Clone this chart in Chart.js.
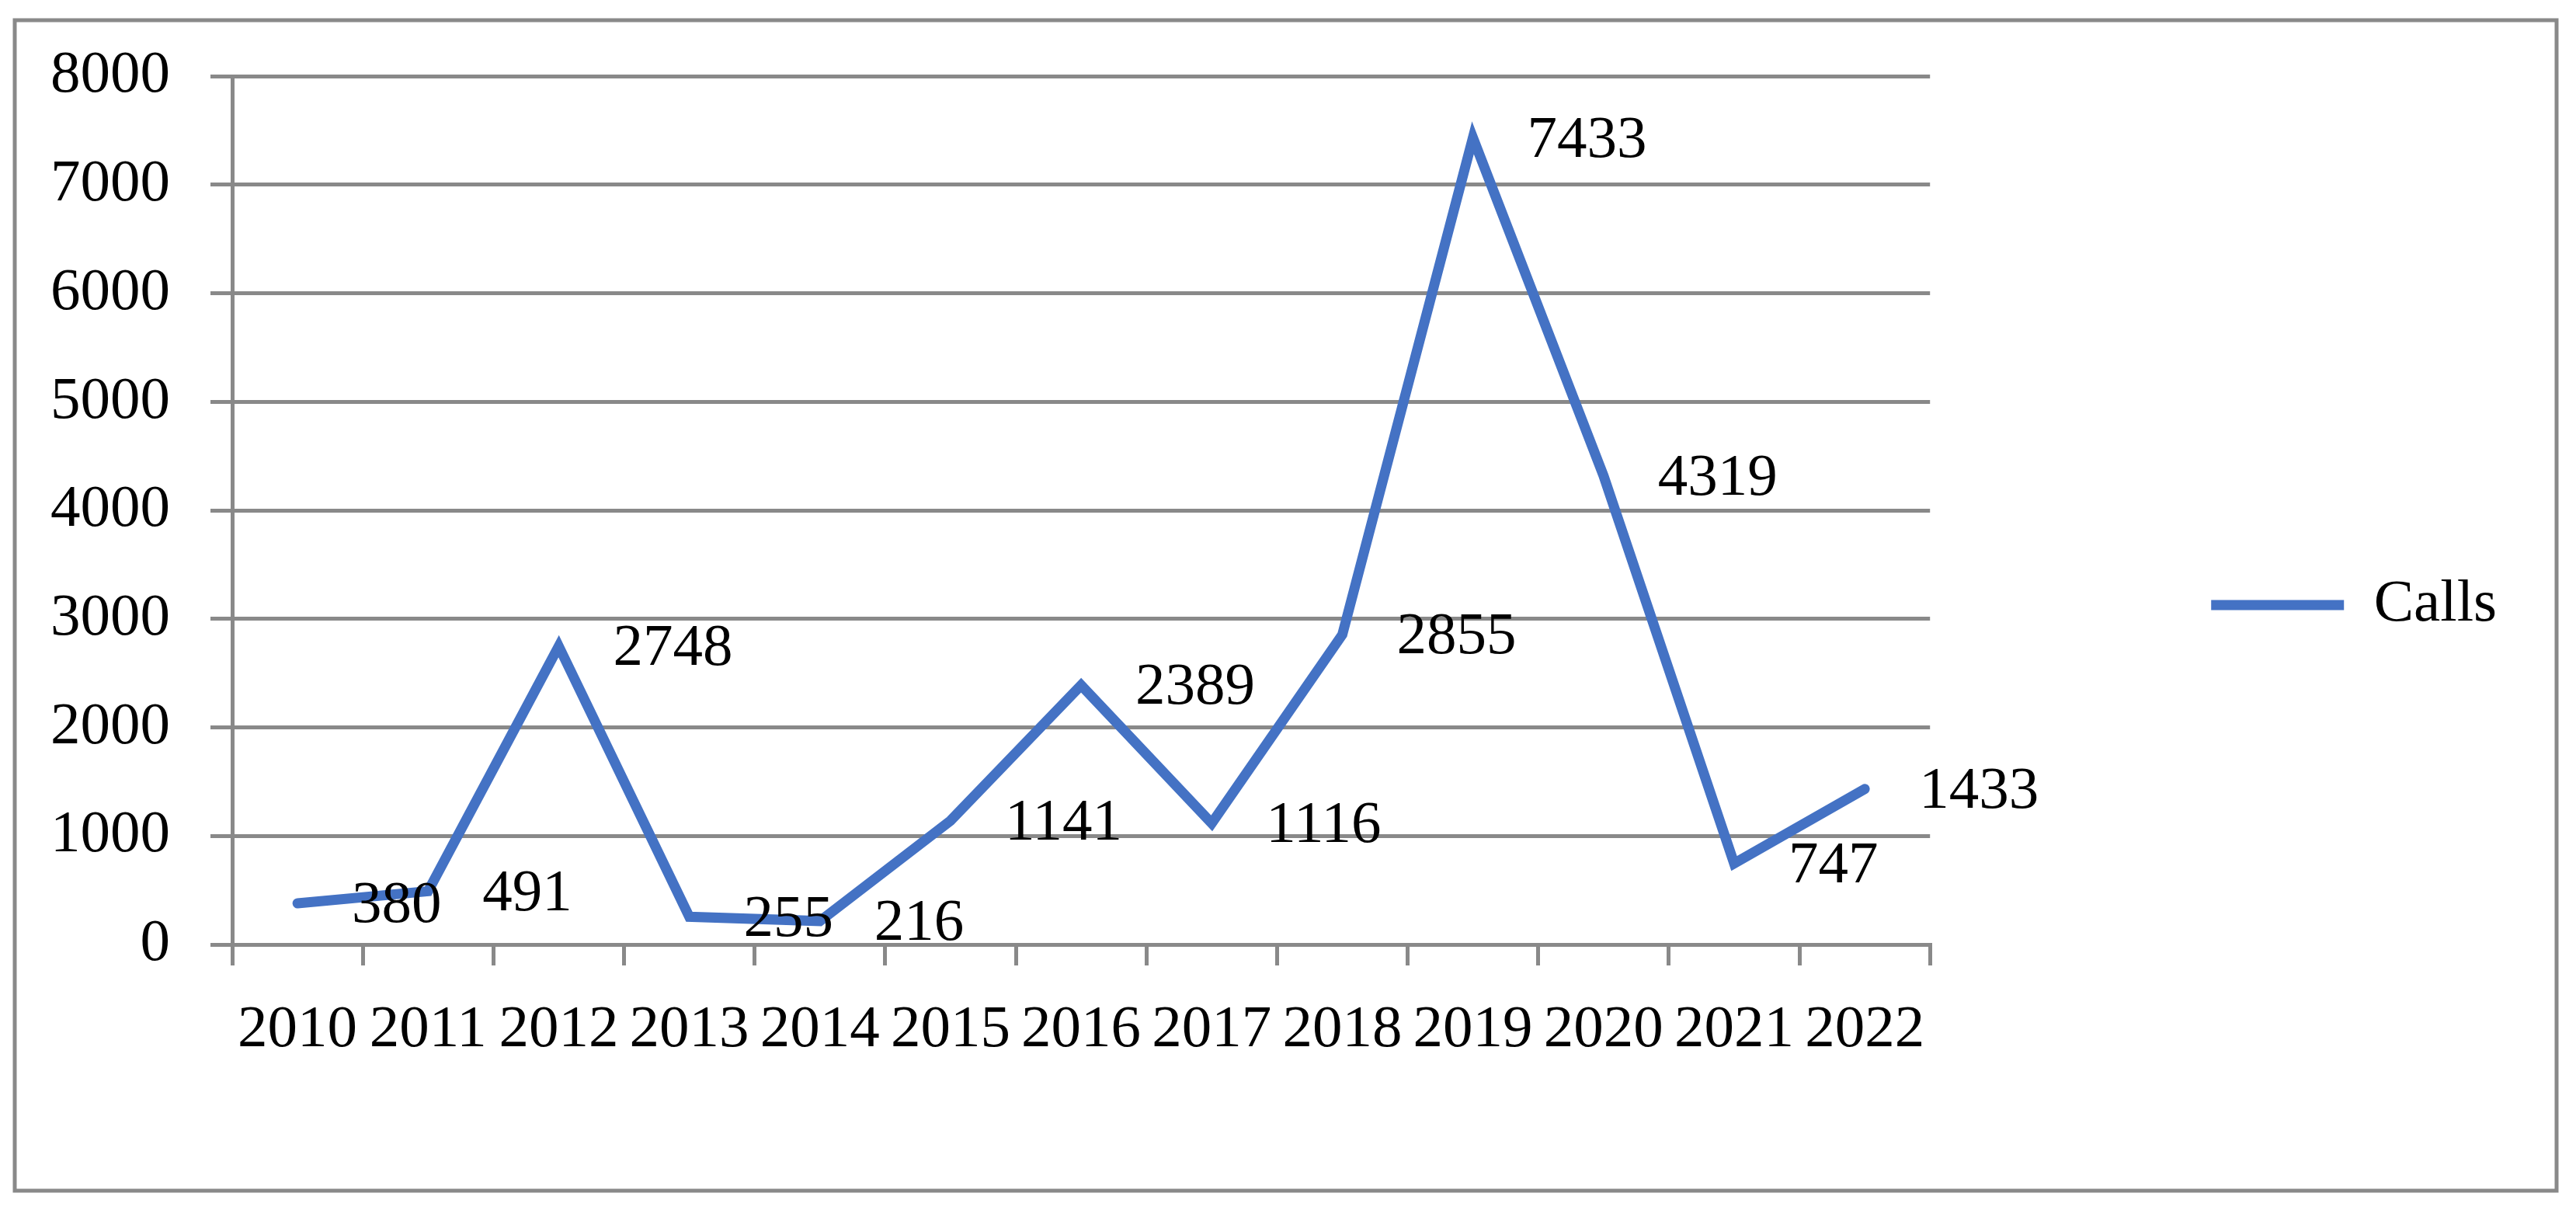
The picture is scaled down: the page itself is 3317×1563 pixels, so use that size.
<!DOCTYPE html>
<html>
<head>
<meta charset="utf-8">
<script src="https://cdn.jsdelivr.net/npm/chart.js@4.4.0/dist/chart.umd.min.js"></script>
<style>
html,body{margin:0;padding:0;background:#fff;}
#wrap{position:relative;width:3317px;height:1563px;}
</style>
</head>
<body>
<div id="wrap"><canvas id="c"></canvas></div>
<script>
// ---- data ----
const categories = ['2010','2011','2012','2013','2014','2015','2016','2017','2018','2019','2020','2021','2022'];
const calls = [380, 491, 2748, 255, 216, 1141, 2389, 1116, 2855, 7433, 4319, 747, 1433];
const seriesName = 'Calls';
const yMin = 0;
const yMax = 8000;
const yStep = 1000;

// ---- style ----
const FONT = 'Liberation Serif, "Times New Roman", serif';
const FS = 77;
const GRAY = '#898989';
const BLUE = '#4472C4';

const framePlugin = {
  id: 'frame',
  beforeDraw(chart) {
    const ctx = chart.ctx;
    ctx.save();
    ctx.fillStyle = '#fff';
    ctx.fillRect(0, 0, chart.width, chart.height);
    ctx.strokeStyle = GRAY;
    ctx.lineWidth = 5;
    ctx.strokeRect(19, 26, 3273, 1507);
    ctx.restore();
  }
};

const valueLabels = {
  id: 'valueLabels',
  afterDatasetsDraw(chart) {
    const ctx = chart.ctx;
    const meta = chart.getDatasetMeta(0);
    const data = chart.data.datasets[0].data;
    ctx.save();
    ctx.font = FS + 'px ' + FONT;
    ctx.fillStyle = '#000';
    ctx.textAlign = 'left';
    ctx.textBaseline = 'middle';
    meta.data.forEach((pt, i) => {
      ctx.fillText(String(data[i]), pt.x + 70, pt.y + 4);
    });
    ctx.restore();
  }
};

new Chart(document.getElementById('c'), {
  type: 'line',
  data: {
    labels: categories,
    datasets: [{
      label: seriesName,
      data: calls,
      borderColor: BLUE,
      backgroundColor: BLUE,
      borderWidth: 13,
      borderCapStyle: 'round',
      borderJoinStyle: 'miter',
      pointRadius: 0,
      pointHoverRadius: 0,
      tension: 0,
      fill: false
    }]
  },
  options: {
    responsive: true,
    maintainAspectRatio: false,
    animation: false,
    devicePixelRatio: 1,
    layout: { padding: { left: 0, top: 98, right: 92, bottom: 103 } },
    plugins: {
      tooltip: { enabled: false },
      legend: {
        position: 'right',
        align: 'center',
        labels: {
          usePointStyle: true,
          pointStyle: 'line',
          pointStyleWidth: 171,
          padding: 362,
          color: '#000',
          font: { family: FONT, size: FS }
        }
      }
    },
    scales: {
      x: {
        type: 'category',
        offset: true,
        grid: {
          display: true,
          offset: true,
          drawOnChartArea: false,
          drawTicks: true,
          tickLength: 27,
          color: GRAY,
          lineWidth: 5
        },
        border: { display: true, color: GRAY, width: 5 },
        ticks: {
          color: '#000',
          font: { family: FONT, size: FS },
          padding: 38,
          maxRotation: 0,
          minRotation: 0,
          autoSkip: false
        },
        afterFit(scale) { scale.height = 244; }
      },
      y: {
        min: yMin,
        max: yMax,
        grid: {
          color: GRAY,
          lineWidth: 5,
          drawTicks: true,
          tickLength: 28
        },
        border: { display: true, color: GRAY, width: 5 },
        ticks: {
          stepSize: yStep,
          format: { useGrouping: false },
          color: '#000',
          font: { family: FONT, size: FS },
          padding: 52
        },
        afterFit(scale) { scale.width = 299; }
      }
    }
  },
  plugins: [framePlugin, valueLabels]
});
</script>
</body>
</html>
